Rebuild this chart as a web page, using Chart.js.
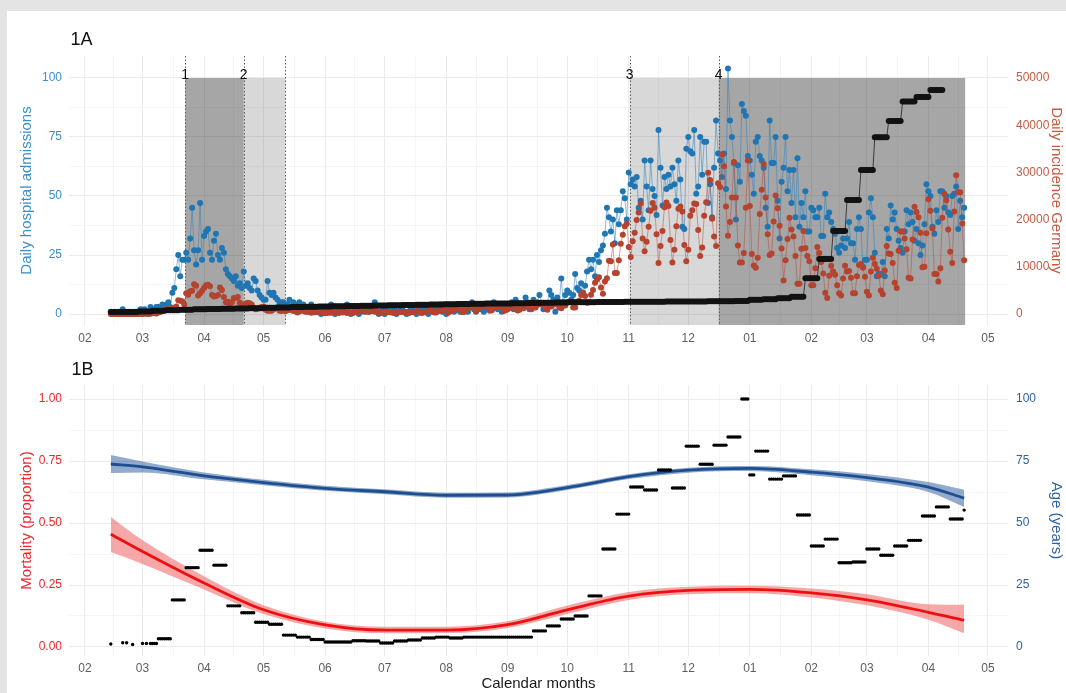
<!DOCTYPE html>
<html>
<head>
<meta charset="utf-8">
<title>Figure 1A / 1B</title>
<script src="https://cdn.jsdelivr.net/npm/chart.js@4.4.1/dist/chart.umd.min.js"></script>
<style>
  html, body { margin:0; padding:0; width:1066px; height:693px; overflow:hidden; background:#e4e4e4; }
  #card { position:absolute; left:7px; top:11px; width:1059px; height:682px; background:#ffffff; }
  canvas { position:absolute; left:0; }
  #top { top:0; }
  #bottom { top:350px; }
</style>
</head>
<body>
<div id="card"></div>
<canvas id="top" width="1066" height="350"></canvas>
<canvas id="bottom" width="1066" height="343"></canvas>
<script>
// ---------- DATA (x = days since 2020-02-01) ----------
const firstDay = 13; // 2020-02-14
const monthDays = [0,29,60,90,121,151,182,213,243,274,304,335,366,394,425,455];
const monthLabels = ['02','03','04','05','06','07','08','09','10','11','12','01','02','03','04','05'];

// Daily hospital admissions (left axis), from 2020-02-14 to 2021-04-19
const admissions = [
  1,0,1,
  0,1,0,2,1,0,1,
  1,0,1,1,0,2,0,
  2,1,0,3,2,1,3,
  3,2,4,3,4,5,3,
  9,11,19,25,16,23,23,
  26,23,32,45,27,21,27,
  47,23,33,35,36,26,23,
  31,34,25,23,28,26,19,
  17,16,15,14,16,12,13,
  11,18,12,13,11,10,15,
  14,10,8,7,6,6,14,
  9,8,9,7,6,4,5,
  5,4,4,6,3,5,4,
  2,5,3,4,2,1,3,
  4,2,3,1,2,0,2,
  3,1,2,4,1,0,1,
  2,3,1,2,4,1,0,
  3,1,2,0,1,2,1,
  2,1,3,2,5,1,0,
  1,2,0,3,1,2,1,
  2,0,1,2,3,1,0,
  1,3,2,1,0,2,1,
  2,1,3,0,2,1,3,
  1,2,4,1,2,0,1,
  3,2,1,4,2,1,2,
  2,4,1,3,5,2,1,
  3,2,4,1,3,2,4,
  2,5,3,2,4,1,3,
  4,2,3,5,2,6,3,
  2,4,3,7,5,2,4,
  6,3,5,8,4,2,3,
  4,10,8,6,1,7,5,
  15,5,8,10,9,6,8,
  17,11,10,13,9,12,18,
  23,19,23,16,25,22,27,
  29,34,45,41,35,40,30,
  44,38,44,52,49,40,60,
  55,57,54,58,45,48,40,
  65,54,44,65,53,50,42,
  78,62,46,58,53,59,54,
  62,55,48,65,57,37,36,
  70,75,69,68,78,51,54,
  75,59,73,73,47,55,41,
  62,82,68,65,58,68,53,
  104,82,75,64,40,63,56,
  89,86,84,67,65,59,51,
  73,75,67,65,62,45,37,
  82,64,64,75,48,32,56,
  62,75,52,61,47,61,41,
  66,37,47,41,52,35,35,
  45,44,41,41,45,33,33,
  51,41,43,39,36,34,28,
  26,29,32,28,32,39,30,
  30,23,36,41,36,20,23,
  23,43,49,41,26,16,17,
  17,22,16,36,32,46,40,
  43,36,31,28,26,35,44,
  38,43,39,31,36,30,25,
  29,38,55,52,50,37,34,
  44,39,52,52,45,50,43,
  42,50,51,54,36,48,41,
  45
];

// Daily incidence Germany (right axis), same days
const incidence = [
  2,0,1,
  0,0,1,0,1,8,0,
  0,2,4,15,20,40,60,
  30,60,90,50,250,150,100,
  300,400,700,800,1000,900,1200,
  1000,1300,1600,2900,2800,2700,2000,
  4400,4100,4800,4900,6300,6000,3900,
  4400,4900,5500,6100,6200,5900,4000,
  3700,3800,4000,5600,5100,3600,2500,
  2600,2000,2500,3400,3400,3600,2400,
  1800,1300,2200,2400,2300,2000,1300,
  1000,1100,1300,1500,1600,900,700,
  700,700,950,1300,1200,670,660,
  930,600,800,900,900,620,580,
  340,510,800,700,460,640,430,
  290,360,360,360,740,290,290,
  180,210,340,240,500,410,300,
  210,350,310,550,190,410,250,
  190,380,350,580,770,600,540,
  540,500,590,630,480,690,260,
  260,270,440,490,420,390,240,
  220,300,400,440,400,380,250,
  160,350,400,530,530,580,250,
  200,450,450,570,800,780,300,
  340,630,680,900,870,950,240,
  510,880,740,1050,1150,1120,440,
  430,970,1230,1450,1450,1400,560,
  1000,1400,1500,1700,2000,1600,710,
  780,1280,1580,1500,1570,1480,640,
  820,1220,1300,1300,1400,1380,750,
  900,1500,1200,1900,1500,1630,1000,
  1400,1400,1900,2200,2100,2300,1300,
  900,1800,1600,2200,2100,2500,1400,
  1200,1800,1800,2500,2600,2600,1400,
  1400,2600,2800,4000,4500,3800,2400,
  2500,4100,5100,6600,7300,7800,5600,
  4300,6900,7600,11300,11200,14700,8700,
  8700,11400,14900,16800,18600,19100,14200,
  12100,15400,17200,19900,21500,23400,16000,
  13300,15300,18500,21900,23500,22500,16900,
  10800,14400,17600,22600,23600,22900,15700,
  10900,13600,18600,22300,22800,21700,14600,
  11200,13600,20800,22000,23400,23300,17800,
  12300,14100,20800,23700,29900,28400,20200,
  16400,14400,27700,26900,33800,31300,22800,
  16600,19500,24700,32200,24700,14500,10900,
  10900,12900,22500,32500,22900,12700,10300,
  9800,11900,21200,26300,31800,24700,16900,
  12500,12800,19600,25100,22400,18700,13900,
  7100,11400,15900,20400,17900,16400,12300,
  6400,6400,13800,17600,14000,12300,11200,
  6100,6100,9700,14200,12900,11000,8600,
  4500,3400,8100,10200,9000,8300,6100,
  4400,3900,7500,10200,9000,9100,7700,
  4400,4400,8000,10400,10600,9800,7900,
  4700,3900,9000,11900,10600,9600,8100,
  5000,4200,9200,14400,12800,12700,10800,
  6600,5500,13400,17500,17500,16000,13700,
  7700,7500,15800,22700,21600,20500,17200,
  9900,10000,17100,24300,21900,18100,8500,
  8500,6900,9700,20400,25500,24100,17900,
  13200,10800,21700,29400,25800,25800,19200,
  11400
];

// Weekly step series (black, left axis); each week starts on day 13 + 7k and lasts 7 days
const stepWeekly = [
  0.8,0.9,1.1,1.4,1.6,1.8,2.0,2.1,2.2,2.3,
  2.4,2.6,2.8,3.0,3.1,3.2,3.3,3.4,3.5,3.6,
  3.7,3.8,3.9,4.0,4.1,4.2,4.3,4.4,4.5,4.6,
  4.7,4.8,4.9,5.0,5.0,5.1,5.1,5.2,5.2,5.2,
  5.3,5.3,5.3,5.4,5.4,5.5,6.0,6.3,6.7,7.3,
  15.2,23.3,35.2,48.3,61.0,74.9,81.8,90.0,92.0,94.9
];

// Phases (shaded periods)
const phaseStart = [50.5, 80, 274.5, 319.3];
const phaseEnd   = [80, 101, 319.3, 443.5];
const phaseTone  = ['dark','light','light','dark'];
const phaseNames = ['1','2','3','4'];
const phaseBounds = [50.5, 80, 101, 274.5, 319.3];

// 1B: weekly mortality proportion (black dashes): start day, end day, value
const mortSegStart = [13,19,21,24,29,31,33,35,
  37,44,51,58,65,72,79,86,93,100,107,114,121,128,135,142,149,156,163,170,177,184,191,198,205,212,219,226,233,240,247,254,261,268,275,282,289,296,303,310,317,324,
  331,335,
  338,345,352,359,366,373,380,387,394,401,408,415,422,429,436,
  443];
const mortSegEnd = [13,19,21,24,29,31,34,36,
  43,50,57,64,71,78,85,92,99,106,113,120,127,134,141,148,155,162,169,176,183,190,197,204,211,218,225,232,239,246,253,260,267,274,281,288,295,302,309,316,323,330,
  334,337,
  344,351,358,365,372,379,386,393,400,407,414,421,428,435,442,
  443];
const mortSegValue = [0.012,0.017,0.017,0.010,0.014,0.014,0.014,0.014,
  0.033,0.19,0.32,0.39,0.33,0.166,0.138,0.10,0.092,0.048,0.04,0.03,0.02,0.02,0.025,0.024,0.016,0.024,0.028,0.036,0.04,0.036,0.04,0.04,0.04,0.04,0.04,0.065,0.085,0.113,0.125,0.206,0.395,0.536,0.645,0.633,0.714,0.641,0.81,0.737,0.814,0.847,
  1.0,0.694,
  0.79,0.677,0.69,0.532,0.407,0.435,0.34,0.343,0.395,0.37,0.407,0.43,0.528,0.565,0.516,
  0.552];

// Smooth fits (read at month marks)
const fitDays = [13,29,60,90,121,151,182,213,243,274,304,335,366,394,425,443];
const mortFit = [0.455,0.385,0.258,0.15,0.089,0.068,0.068,0.09,0.15,0.205,0.228,0.232,0.218,0.19,0.14,0.108];
const mortLo  = [0.383,0.335,0.232,0.133,0.075,0.055,0.056,0.077,0.133,0.19,0.213,0.217,0.2,0.168,0.11,0.055];
const mortHi  = [0.524,0.43,0.285,0.168,0.102,0.082,0.082,0.104,0.167,0.222,0.243,0.247,0.236,0.213,0.172,0.17];
const ageFit  = [73.8,72.6,69,66.3,64,62.6,61.2,61.3,64.3,68.7,71.3,72,70.5,68.3,64.5,60];
const ageLo   = [70.2,70.4,67.6,65.2,63,61.6,60.2,60.3,63.3,67.7,70.3,71,69.3,66.8,62.5,56.5];
const ageHi   = [77.4,74.8,70.4,67.4,65,63.6,62.2,62.3,65.3,69.7,72.3,73,71.7,69.8,66.5,63.4];

// ---------- STYLE ----------
const FONT = "'Liberation Sans', Arial, Helvetica, sans-serif";
const TICK_GREY = '#5e5e5e';
const GRID_MAJOR = '#ebebeb';
const GRID_MINOR = '#f3f3f3';

// ---------- helpers ----------
const series = (arr) => arr.map((v, i) => ({x: firstDay + i, y: v}));
const stepPoints = [];
stepWeekly.forEach((v, k) => { for (let d = 0; d < 7; d++) stepPoints.push({x: firstDay + 7*k + d, y: v}); });
const mortPoints = [];
mortSegStart.forEach((s, i) => { for (let d = s; d <= mortSegEnd[i]; d++) mortPoints.push({x: d, y: mortSegValue[i]}); });
const fitSeries = (arr) => arr.map((v, i) => ({x: fitDays[i], y: v}));

const monthLabelMap = {};
monthDays.forEach((d, i) => monthLabelMap[d] = monthLabels[i]);
function buildMonthTicks(scale) {
  const t = [];
  monthDays.forEach((d, i) => {
    t.push({value: d, major: true});
    if (i < monthDays.length - 1) t.push({value: (d + monthDays[i+1]) / 2, major: false});
  });
  scale.ticks = t;
}
function xAxis(height, pad, title) {
  return {
    type: 'linear', min: -8.06, max: 465.1,
    afterBuildTicks: buildMonthTicks,
    afterFit: s => { s.height = height; },
    border: {display: false},
    grid: {drawTicks: false, color: c => (c.tick && c.tick.major) ? GRID_MAJOR : GRID_MINOR, lineWidth: c => (c.tick && c.tick.major) ? 1 : 0.8},
    ticks: {autoSkip: false, maxRotation: 0, padding: pad, color: TICK_GREY, font: {family: FONT, size: 12},
            callback: (v) => (monthLabelMap[v] !== undefined ? monthLabelMap[v] : '')},
    title: title
  };
}
function yAxisLeft(min, max, majors, minors, fmt, color, titleText) {
  return {
    position: 'left', min: min, max: max,
    afterBuildTicks: s => { s.ticks = majors.map(v => ({value: v, major: true})).concat(minors.map(v => ({value: v, major: false}))).sort((a,b)=>a.value-b.value); },
    afterFit: s => { s.width = 69; },
    border: {display: false},
    grid: {drawTicks: false, color: c => (c.tick && c.tick.major) ? GRID_MAJOR : GRID_MINOR, lineWidth: c => (c.tick && c.tick.major) ? 1 : 0.8},
    ticks: {autoSkip: false, padding: 7, color: color, font: {family: FONT, size: 12},
            callback: v => (majors.indexOf(v) >= 0 ? fmt(v) : '')},
    title: {display: true, text: titleText, color: color, font: {family: FONT, size: 15}, padding: {top: 18, bottom: 0}}
  };
}
function yAxisRight(min, max, majors, color, titleText) {
  return {
    position: 'right', min: min, max: max,
    afterBuildTicks: s => { s.ticks = majors.map(v => ({value: v})); },
    afterFit: s => { s.width = 58; },
    border: {display: false},
    grid: {display: false, drawTicks: false},
    ticks: {autoSkip: false, padding: 8, color: color, font: {family: FONT, size: 12}, callback: v => String(v)},
    title: {display: true, text: titleText, color: color, font: {family: FONT, size: 15}, padding: {top: 1, bottom: 0}}
  };
}

// ---------- plugins ----------
const topDecor = {
  id: 'topDecor',
  beforeDatasetsDraw(chart) {
    const {ctx, chartArea: a, scales: {x, y}} = chart;
    ctx.save();
    ctx.beginPath(); ctx.rect(a.left, a.top, a.right - a.left, a.bottom - a.top); ctx.clip();
    const yt = y.getPixelForValue(100);
    phaseStart.forEach((s, i) => {
      const x0 = x.getPixelForValue(s), x1 = x.getPixelForValue(phaseEnd[i]);
      ctx.fillStyle = phaseTone[i] === 'dark' ? 'rgba(60,60,60,0.46)' : 'rgba(60,60,60,0.2)';
      ctx.fillRect(x0, yt, x1 - x0, a.bottom - yt);
    });
    ctx.strokeStyle = '#5a5a5a'; ctx.lineWidth = 1; ctx.setLineDash([1.5, 2]);
    phaseBounds.forEach(d => {
      const px = Math.round(x.getPixelForValue(d)) + 0.5;
      ctx.beginPath(); ctx.moveTo(px, a.top); ctx.lineTo(px, a.bottom); ctx.stroke();
    });
    ctx.restore();
  },
  afterDatasetsDraw(chart) {
    const {ctx, chartArea: a, scales: {x, y}} = chart;
    ctx.save();
    ctx.fillStyle = '#111';
    ctx.font = '14px ' + FONT; ctx.textAlign = 'center'; ctx.textBaseline = 'alphabetic';
    phaseNames.forEach((n, i) => ctx.fillText(n, x.getPixelForValue(phaseStart[i]), y.getPixelForValue(100) + 1));
    ctx.font = '18px ' + FONT; ctx.textAlign = 'left';
    ctx.fillText('1A', a.left + 1.5, 45);
    ctx.restore();
  }
};
const bottomDecor = {
  id: 'bottomDecor',
  afterDatasetsDraw(chart) {
    const {ctx, chartArea: a} = chart;
    ctx.save();
    ctx.fillStyle = '#111'; ctx.font = '18px ' + FONT; ctx.textAlign = 'left'; ctx.textBaseline = 'alphabetic';
    ctx.fillText('1B', a.left + 2.5, 25);
    ctx.restore();
  }
};

Chart.defaults.font.family = FONT;

// ---------- 1A ----------
new Chart(document.getElementById('top'), {
  type: 'line',
  data: {
    datasets: [
      {label: 'Admissions', data: series(admissions), yAxisID: 'y', order: 2,
       borderColor: 'rgba(50,130,190,0.55)', borderWidth: 1, pointRadius: 3, pointBorderWidth: 0,
       pointBackgroundColor: '#1f76b2', tension: 0},
      {label: 'Incidence', data: series(incidence), yAxisID: 'y2', order: 1,
       borderColor: 'rgba(185,70,50,0.5)', borderWidth: 1, pointRadius: 3, pointBorderWidth: 0,
       pointBackgroundColor: '#b4432f', tension: 0},
      {label: 'Step', data: stepPoints, yAxisID: 'y', order: 0,
       borderColor: 'rgba(40,40,40,0.85)', borderWidth: 1, pointRadius: 3, pointBorderWidth: 0,
       pointBackgroundColor: '#121212', tension: 0}
    ]
  },
  options: {
    responsive: false, animation: false, devicePixelRatio: 1,
    layout: {padding: {top: 56, left: 0, right: 0, bottom: 0}},
    plugins: {legend: {display: false}, tooltip: {enabled: false}},
    scales: {
      x: xAxis(25, 6, {display: false}),
      y: yAxisLeft(-4.66, 109.32, [0,25,50,75,100], [12.5,37.5,62.5,87.5], v => String(v), '#3b8fc9', 'Daily hospital admissions'),
      y2: yAxisRight(-2330, 54660, [0,10000,20000,30000,40000,50000], '#c65a43', 'Daily incidence Germany')
    }
  },
  plugins: [topDecor]
});

// ---------- 1B ----------
new Chart(document.getElementById('bottom'), {
  type: 'line',
  data: {
    datasets: [
      {label: 'mort hi', data: fitSeries(mortHi), yAxisID: 'y', fill: '+1', backgroundColor: 'rgba(236,60,60,0.45)',
       borderWidth: 0, pointRadius: 0, cubicInterpolationMode: 'monotone', order: 5},
      {label: 'mort lo', data: fitSeries(mortLo), yAxisID: 'y', fill: false,
       borderWidth: 0, pointRadius: 0, cubicInterpolationMode: 'monotone', order: 5},
      {label: 'Mortality', data: fitSeries(mortFit), yAxisID: 'y', fill: false, borderColor: '#ee1010',
       borderWidth: 2.8, pointRadius: 0, cubicInterpolationMode: 'monotone', order: 3},
      {label: 'age hi', data: fitSeries(ageHi), yAxisID: 'y2', fill: '+1', backgroundColor: 'rgba(35,85,155,0.5)',
       borderWidth: 0, pointRadius: 0, cubicInterpolationMode: 'monotone', order: 6},
      {label: 'age lo', data: fitSeries(ageLo), yAxisID: 'y2', fill: false,
       borderWidth: 0, pointRadius: 0, cubicInterpolationMode: 'monotone', order: 6},
      {label: 'Age', data: fitSeries(ageFit), yAxisID: 'y2', fill: false, borderColor: '#1d4f90',
       borderWidth: 2.8, pointRadius: 0, cubicInterpolationMode: 'monotone', order: 4},
      {label: 'Weekly mortality', data: mortPoints, yAxisID: 'y', showLine: false, order: 0,
       pointRadius: 1.7, pointBorderWidth: 0, pointBackgroundColor: '#000'}
    ]
  },
  options: {
    responsive: false, animation: false, devicePixelRatio: 1,
    layout: {padding: {top: 35, left: 0, right: 0, bottom: 0}},
    plugins: {legend: {display: false}, tooltip: {enabled: false}},
    scales: {
      x: xAxis(37, 5, {display: true, text: 'Calendar months', color: '#1a1a1a', font: {family: FONT, size: 15}, padding: {top: 0, bottom: 0}}),
      y: yAxisLeft(-0.0363, 1.0565, [0,0.25,0.5,0.75,1], [0.125,0.375,0.625,0.875], v => v.toFixed(2), '#f0262c', 'Mortality (proportion)'),
      y2: yAxisRight(-3.63, 105.65, [0,25,50,75,100], '#2f62a4', 'Age (years)')
    }
  },
  plugins: [bottomDecor]
});
</script>
</body>
</html>
